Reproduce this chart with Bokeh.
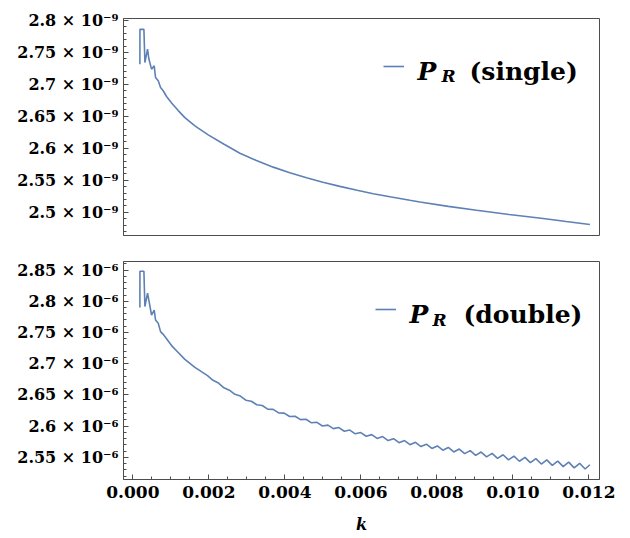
from bokeh.plotting import figure
from bokeh.models import (FixedTicker, Range1d, Label, Legend, LegendItem,
                          CustomJSTickFormatter)
from bokeh.layouts import column
from bokeh.embed import file_html
from bokeh.resources import INLINE

# ---------------- data ----------------
k_single = [0.000184, 0.000186, 0.000290, 0.000316, 0.000386, 0.000420, 0.000491,
            0.000561, 0.000596, 0.000667, 0.000728, 0.000798, 0.000886, 0.001018,
            0.001193, 0.001368, 0.001632, 0.001982, 0.002400, 0.002816, 0.003250,
            0.003693, 0.004130, 0.004570, 0.005000, 0.005447, 0.005900, 0.006325,
            0.006800, 0.007290, 0.007553, 0.008300, 0.009044, 0.009900, 0.010798,
            0.011400, 0.012026]
p_single = [2.7316e-9, 2.786e-9, 2.786e-9, 2.7341e-9, 2.755e-9, 2.740e-9, 2.7238e-9,
            2.729e-9, 2.7107e-9, 2.7056e-9, 2.6952e-9, 2.690e-9, 2.6810e-9, 2.6710e-9,
            2.6590e-9, 2.6480e-9, 2.6350e-9, 2.6210e-9, 2.6063e-9, 2.5924e-9, 2.5809e-9,
            2.5706e-9, 2.5619e-9, 2.554e-9, 2.5471e-9, 2.5405e-9, 2.5344e-9, 2.5291e-9,
            2.5238e-9, 2.5187e-9, 2.516e-9, 2.5093e-9, 2.5031e-9, 2.4965e-9, 2.4902e-9,
            2.4855e-9, 2.4808e-9]

k_double = [0.000184, 0.000186, 0.000290, 0.000316, 0.000386, 0.000491, 0.000561,
            0.000596, 0.000667, 0.000728, 0.000798, 0.000886, 0.001018, 0.001193,
            0.001368, 0.001632,
            0.001964, 0.002108, 0.002252, 0.002396, 0.002540, 0.002684, 0.002828,
            0.002972, 0.003116, 0.003260, 0.003404, 0.003548, 0.003692, 0.003836,
            0.003980, 0.004124, 0.004268, 0.004412, 0.004556, 0.004700, 0.004844,
            0.004988, 0.005132, 0.005276, 0.005420, 0.005564, 0.005708, 0.005852,
            0.005996, 0.006140, 0.006284, 0.006428, 0.006572, 0.006716, 0.006860,
            0.007004, 0.007148, 0.007292, 0.007436, 0.007580, 0.007724, 0.007868,
            0.008012, 0.008156, 0.008300, 0.008444, 0.008588, 0.008732, 0.008876,
            0.009020, 0.009164, 0.009308, 0.009452, 0.009596, 0.009740, 0.009884,
            0.010028, 0.010172, 0.010316, 0.010460, 0.010604, 0.010748, 0.010892,
            0.011036, 0.011180, 0.011324, 0.011468, 0.011612, 0.011756, 0.011900,
            0.012026]
p_double = [2.790e-6, 2.848e-6, 2.848e-6, 2.7916e-6, 2.813e-6, 2.778e-6, 2.786e-6,
            2.770e-6, 2.7648e-6, 2.7514e-6, 2.747e-6, 2.740e-6, 2.7290e-6, 2.7180e-6,
            2.7070e-6, 2.6940e-6,
            2.6808e-6, 2.6734e-6, 2.6690e-6, 2.6614e-6, 2.6575e-6, 2.6510e-6, 2.6482e-6,
            2.6415e-6, 2.6399e-6, 2.6342e-6, 2.6330e-6, 2.6273e-6, 2.6268e-6, 2.6211e-6,
            2.6208e-6, 2.6155e-6, 2.6159e-6, 2.6104e-6, 2.6110e-6, 2.6053e-6, 2.6061e-6,
            2.6002e-6, 2.6016e-6, 2.5960e-6, 2.5977e-6, 2.5918e-6, 2.5937e-6, 2.5877e-6,
            2.5897e-6, 2.5838e-6, 2.5864e-6, 2.5803e-6, 2.5832e-6, 2.5769e-6, 2.5799e-6,
            2.5734e-6, 2.5768e-6, 2.5703e-6, 2.5740e-6, 2.5673e-6, 2.5711e-6, 2.5642e-6,
            2.5683e-6, 2.5614e-6, 2.5658e-6, 2.5586e-6, 2.5633e-6, 2.5559e-6, 2.5608e-6,
            2.5532e-6, 2.5585e-6, 2.5508e-6, 2.5563e-6, 2.5484e-6, 2.5541e-6, 2.5460e-6,
            2.5519e-6, 2.5437e-6, 2.5499e-6, 2.5415e-6, 2.5479e-6, 2.5393e-6, 2.5459e-6,
            2.5372e-6, 2.5440e-6, 2.5352e-6, 2.5423e-6, 2.5332e-6, 2.5405e-6, 2.5313e-6,
            2.5381e-6]

x_ticks = [0.0, 0.002, 0.004, 0.006, 0.008, 0.010, 0.012]
x_tick_labels = ["0.000", "0.002", "0.004", "0.006", "0.008", "0.010", "0.012"]

y_ticks_single = [2.5e-9, 2.55e-9, 2.6e-9, 2.65e-9, 2.7e-9, 2.75e-9, 2.8e-9]
y_labels_single = ["2.5 × 10⁻⁹", "2.55 × 10⁻⁹", "2.6 × 10⁻⁹", "2.65 × 10⁻⁹",
                   "2.7 × 10⁻⁹", "2.75 × 10⁻⁹", "2.8 × 10⁻⁹"]
y_ticks_double = [2.55e-6, 2.6e-6, 2.65e-6, 2.7e-6, 2.75e-6, 2.8e-6, 2.85e-6]
y_labels_double = ["2.55 × 10⁻⁶", "2.6 × 10⁻⁶", "2.65 × 10⁻⁶", "2.7 × 10⁻⁶",
                   "2.75 × 10⁻⁶", "2.8 × 10⁻⁶", "2.85 × 10⁻⁶"]

legend_single = "(single)"
legend_double = "(double)"
x_label = "k"

# ---------------- style ----------------
LINE = "#5E81B5"
FRAME = "#4d4d4d"
FONT = "DejaVu Serif"

JS_FMT = """
let best = 0, d = Infinity;
for (let i = 0; i < tvals.length; i++) {
  const e = Math.abs(tvals[i] - tick);
  if (e < d) { d = e; best = i; }
}
return tlabels[best];
"""

x_range = Range1d(-0.000247, 0.012279)


def style(p, yticks, ylabels, yminor):
    p.grid.visible = False
    p.outline_line_color = FRAME
    p.outline_line_width = 1
    p.background_fill_color = "white"
    p.border_fill_color = "white"
    ax = p.yaxis[0]
    ax.ticker = FixedTicker(ticks=yticks, minor_ticks=yminor)
    ax.formatter = CustomJSTickFormatter(args=dict(tvals=yticks, tlabels=ylabels), code=JS_FMT)
    ax.axis_line_color = FRAME
    ax.major_tick_line_color = FRAME
    ax.minor_tick_line_color = FRAME
    ax.major_tick_in = 5
    ax.major_tick_out = 0
    ax.minor_tick_in = 3
    ax.minor_tick_out = 0
    ax.major_label_text_font = FONT
    ax.major_label_text_font_style = "bold"
    ax.major_label_text_font_size = "16px"
    ax.major_label_text_color = "black"
    ax.major_label_standoff = 5


def add_legend(p, r, gx, gy, px, py, rx, ry, tx, text):
    leg = Legend(items=[LegendItem(label=" ", renderers=[r])], location=(gx, gy),
                 padding=0, margin=0, spacing=0, glyph_width=21, glyph_height=20,
                 label_height=20, label_width=1, label_standoff=0,
                 label_text_font_size="2px", border_line_color=None,
                 background_fill_alpha=0)
    p.add_layout(leg)
    p.add_layout(Label(x=px, y=py, x_units="screen", y_units="screen", text="P",
                       text_font=FONT, text_font_style="bold italic",
                       text_font_size="25px", text_baseline="alphabetic",
                       text_color="black"))
    p.add_layout(Label(x=rx, y=ry, x_units="screen", y_units="screen", text="R",
                       text_font=FONT, text_font_style="bold italic",
                       text_font_size="17px", text_baseline="alphabetic",
                       text_color="black"))
    p.add_layout(Label(x=tx, y=py, x_units="screen", y_units="screen", text=text,
                       text_font=FONT, text_font_style="bold",
                       text_font_size="25px", text_baseline="alphabetic",
                       text_color="black"))


# ---------------- top panel ----------------
p1 = figure(width=630, height=248, x_range=x_range,
            y_range=Range1d(2.4637e-9, 2.803e-9),
            output_backend="svg", toolbar_location=None, x_axis_location=None,
            min_border_left=123, min_border_right=31, min_border_top=18,
            min_border_bottom=13)
r1 = p1.line(k_single, p_single, line_color=LINE, line_width=1.6)
style(p1, y_ticks_single, y_labels_single,
      [round(2.46 + 0.01 * i, 2) * 1e-9 for i in range(36)])
add_legend(p1, r1, 260, 159, 294, 164, 318, 160, 346, legend_single)

# ---------------- bottom panel ----------------
p2 = figure(width=630, height=290, x_range=x_range,
            y_range=Range1d(2.5145e-6, 2.8637e-6),
            output_backend="svg", toolbar_location=None,
            min_border_left=123, min_border_right=31, min_border_top=13,
            min_border_bottom=59)
r2 = p2.line(k_double, p_double, line_color=LINE, line_width=1.6)
style(p2, y_ticks_double, y_labels_double,
      [round(2.51 + 0.01 * i, 2) * 1e-6 for i in range(37)])
xa = p2.xaxis[0]
xa.ticker = FixedTicker(ticks=x_ticks, minor_ticks=[0.0005 * i for i in range(-1, 26)])
xa.formatter = CustomJSTickFormatter(args=dict(tvals=x_ticks, tlabels=x_tick_labels), code=JS_FMT)
xa.axis_line_color = FRAME
xa.major_tick_line_color = FRAME
xa.minor_tick_line_color = FRAME
xa.major_tick_in = 5
xa.major_tick_out = 0
xa.minor_tick_in = 3
xa.minor_tick_out = 0
xa.major_label_text_font = FONT
xa.major_label_text_font_style = "bold"
xa.major_label_text_font_size = "17px"
xa.major_label_text_color = "black"
xa.major_label_standoff = 6
xa.axis_label = x_label
xa.axis_label_text_font = FONT
xa.axis_label_text_font_style = "bold italic"
xa.axis_label_text_font_size = "16px"
xa.axis_label_text_color = "black"
xa.axis_label_standoff = 14
add_legend(p2, r2, 252, 160, 286, 165, 309, 160, 340, legend_double)

layout = column(p1, p2)
open("out.html", "w").write(file_html(layout, INLINE))
